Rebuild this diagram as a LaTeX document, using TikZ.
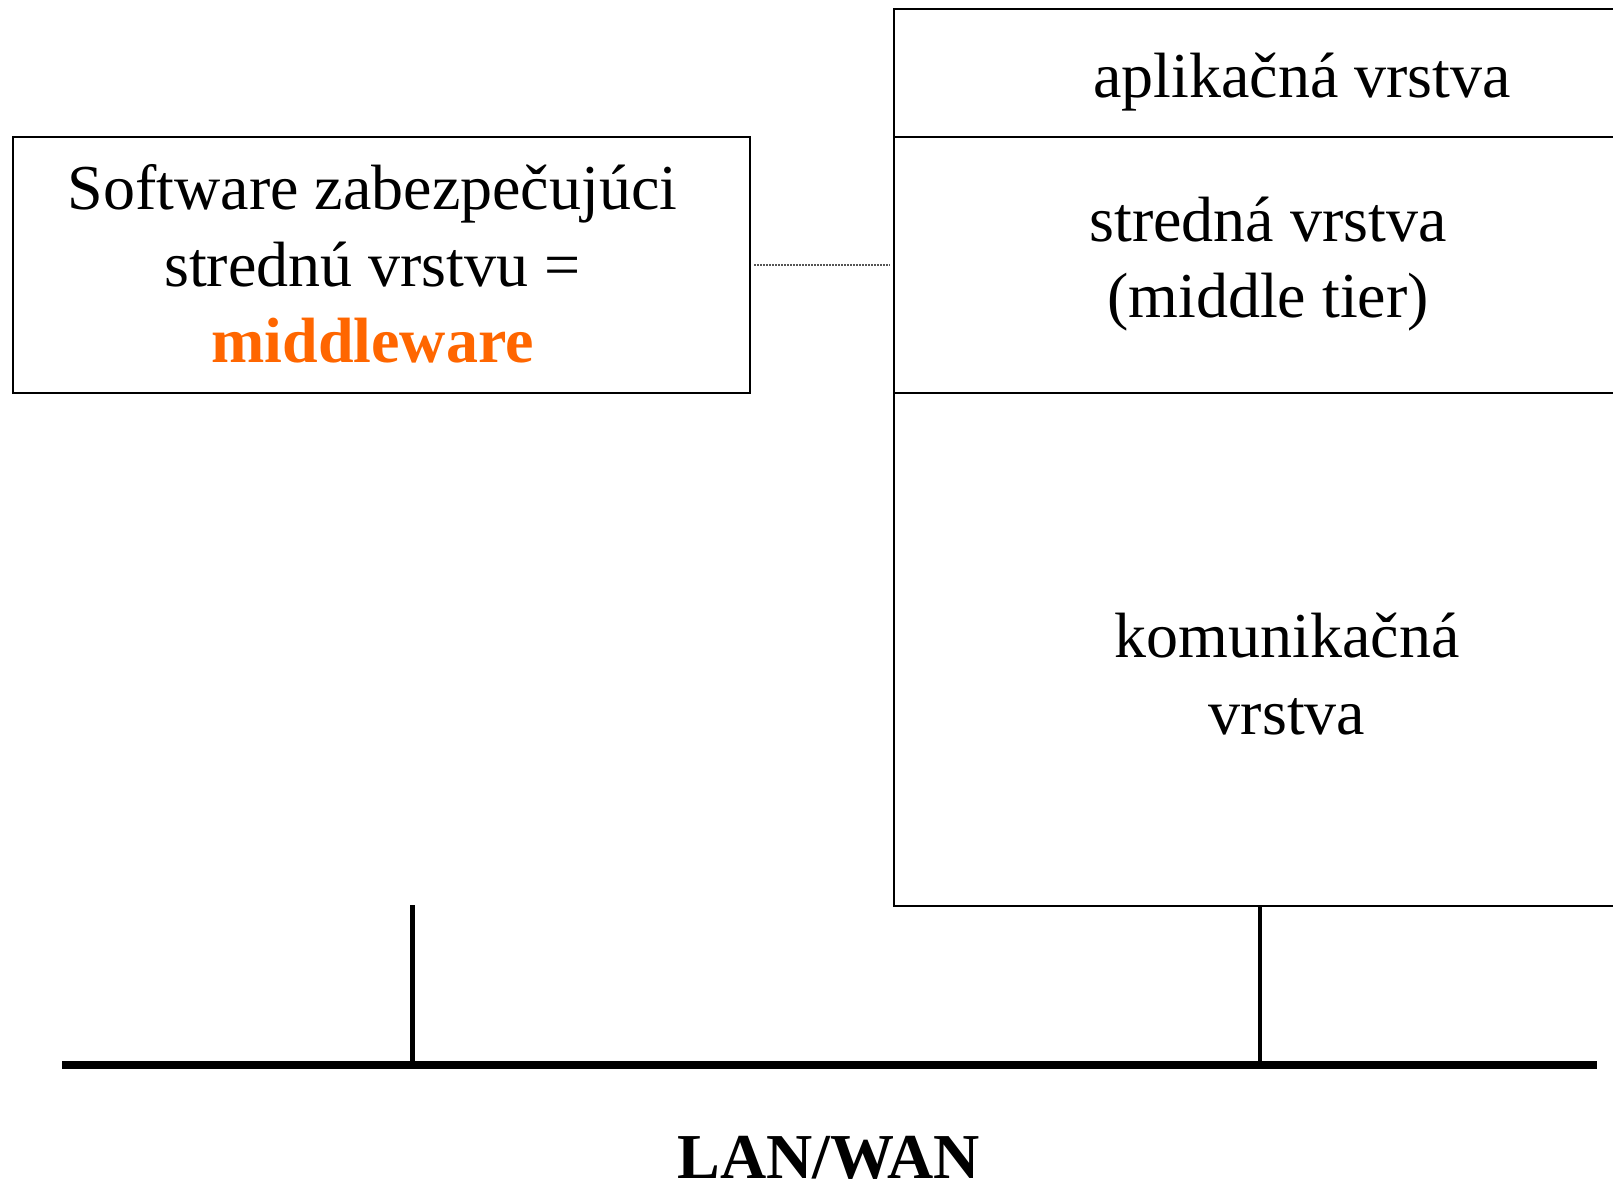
\documentclass[tikz,border=0pt]{standalone}
\usepackage{fontspec}
\setmainfont{Liberation Serif}
\definecolor{mwOrange}{HTML}{FF6600}
\definecolor{dotGray}{HTML}{555555}
\begin{document}
\begin{tikzpicture}[x=1pt,y=-1pt,
  every node/.style={font=\fontsize{64}{77}\selectfont},
  boxnode/.style={draw=black,line width=2pt,inner sep=0pt,anchor=north west},
  txt/.style={anchor=base,inner sep=0pt},
  drop/.style={line width=4.5pt},
  bus/.style={line width=7.5pt}]
\useasboundingbox (0,0) rectangle (1613,1187);
% boxes
\node[boxnode,minimum width=737pt,minimum height=256pt] (lb) at (12.3,136) {};
\node[boxnode,minimum width=730pt,minimum height=128pt] (app) at (893,8) {};
\node[boxnode,minimum width=730pt,minimum height=256pt] (mid) at (893,136) {};
\node[boxnode,minimum width=730pt,minimum height=513pt] (kom) at (893,392) {};
% texts
\node[txt] (t1) at (372.5,209) {Software zabezpečujúci};
\node[txt] (t2) at (372.5,286) {strednú vrstvu =};
\node[txt,text=mwOrange,font=\fontsize{64}{77}\selectfont\bfseries] (t3) at (372.5,362) {middleware};
\node[txt] (ta) at (1302,97) {aplikačná vrstva};
\node[txt] (tm1) at (1268,241) {stredná vrstva};
\node[txt] (tm2) at (1268,317) {(middle tier)};
\node[txt] (tk1) at (1287,657) {komunikačná};
\node[txt] (tk2) at (1287,734) {vrstva};
\node[txt,font=\fontsize{64}{77}\selectfont\bfseries] (lan) at (829,1178) {LAN/WAN};
% dotted connector
\draw[dotGray,line width=1.5pt,dash pattern=on 1.5pt off 1.5pt,shorten <=3pt,shorten >=3pt] (lb.east) -- (mid.west);
% network bus
\coordinate (busL) at (62,1065);
\coordinate (busR) at (1597,1065);
\coordinate (dropL) at (412.5,905);
\coordinate (busA) at (412.5,1065);
\coordinate (dropR) at (1260,905);
\coordinate (busB) at (1260,1065);
\draw[bus] (busL) -- (busR);
\draw[drop] (dropL) -- (busA);
\draw[drop] (dropR) -- (busB);
\end{tikzpicture}
\end{document}
